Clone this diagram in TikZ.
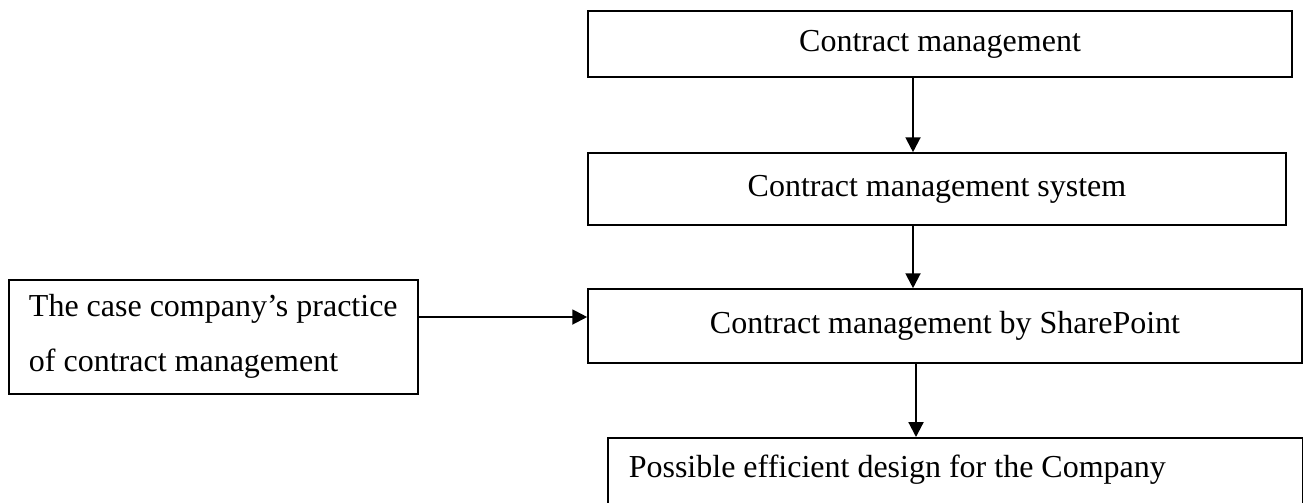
\documentclass[tikz,border=0pt]{standalone}
\usepackage{fontspec}
\setmainfont{Liberation Serif}
\usepackage{tikz}
\usetikzlibrary{arrows.meta}

\begin{document}
\begin{tikzpicture}[x=0.375pt, y=-0.375pt,
    box/.style={draw=black, line width=0.6pt, inner sep=0pt, font=\fontsize{12}{14.4}\selectfont},
    arr/.style={black, line width=0.8pt, -{Triangle[length=5.6pt, width=5.6pt]}}]
    %FRAME
    \useasboundingbox (0,0) rectangle (1303,502);
    \clip (0,0) rectangle (1303,502);
    %KOTAK
    \node[box, minimum width=264pt, minimum height=24.75pt] (cm) at (940,44) {Contract management};
    \node[box, minimum width=261.75pt, minimum height=27pt] (cms) at (937,189) {Contract management system};
    \node[box, minimum width=267.75pt, minimum height=27.75pt] (cmsp) at (945,326) {Contract management by SharePoint};
    \node[box, anchor=north west, align=flush left, text width=244.875pt, inner xsep=7.875pt, inner ysep=1.875pt,
        text height=13.125pt, text depth=20pt] (design) at (607,437) {Possible efficient design for the Company};
    \node[box, anchor=north west, align=left, minimum width=153.375pt, minimum height=42.75pt,
        font=\fontsize{12}{20.6}\selectfont] (case) at (8,279) {The case company's practice\\of contract management};
    %PANAH
    \coordinate (colA) at (913,0);
    \coordinate (colB) at (916,0);
    \coordinate (rowA) at (0,317);
    \draw[arr] (cm.south -| colA) -- (cms.north -| colA);
    \draw[arr] (cms.south -| colA) -- (cmsp.north -| colA);
    \draw[arr] (cmsp.south -| colB) -- (design.north -| colB);
    \draw[arr] (case.east |- rowA) -- (cmsp.west |- rowA);
\end{tikzpicture}
\end{document}
